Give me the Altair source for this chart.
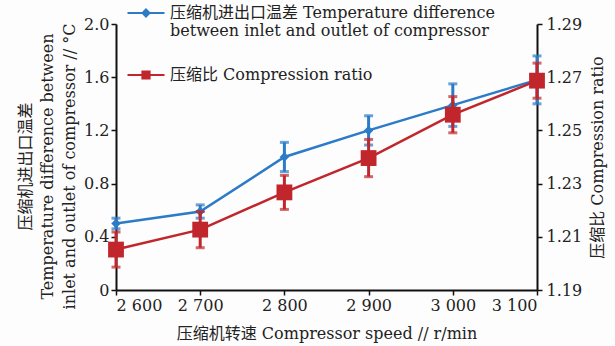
import altair as alt
import pandas as pd

# ---- data ----
speed = [2600, 2700, 2800, 2900, 3000, 3100]
temp_diff = [0.50, 0.59, 1.00, 1.20, 1.39, 1.58]
temp_err = [0.04, 0.05, 0.11, 0.11, 0.16, 0.18]
comp_ratio = [1.2052, 1.2127, 1.2267, 1.2396, 1.2559, 1.2687]
comp_err = [0.0066, 0.0068, 0.0064, 0.0070, 0.0068, 0.0066]

x_ticks = [2600, 2700, 2800, 2900, 3000, 3100]
left_ticks = [0, 0.4, 0.8, 1.2, 1.6, 2.0]
right_ticks = [1.19, 1.21, 1.23, 1.25, 1.27, 1.29]

blue_name = "压缩机进出口温差 Temperature difference|between inlet and outlet of compressor"
red_name = "压缩比 Compression ratio"
x_title = "压缩机转速 Compressor speed // r/min"
left_title = ["压缩机进出口温差", "Temperature difference between", "inlet and outlet of compressor // °C"]
right_title = "压缩比 Compression ratio"

BLUE = "#2b7bc6"
RED = "#c0262c"
FONT = "DejaVu Serif, Noto Sans CJK SC"
FS = 16

dfb = pd.DataFrame({
    "speed": speed,
    "val": temp_diff,
    "lo": [v - e for v, e in zip(temp_diff, temp_err)],
    "hi": [v + e for v, e in zip(temp_diff, temp_err)],
    "series": [blue_name] * len(speed),
})
dfr = pd.DataFrame({
    "speed": speed,
    "val": comp_ratio,
    "lo": [v - e for v, e in zip(comp_ratio, comp_err)],
    "hi": [v + e for v, e in zip(comp_ratio, comp_err)],
    "series": [red_name] * len(speed),
})

x_enc = alt.X(
    "speed:Q",
    scale=alt.Scale(domain=[2600, 3100], nice=False, zero=False),
    axis=alt.Axis(
        values=x_ticks,
        labelExpr="replace(format(datum.value, ','), ',', ' ')",
        title=x_title,
        titlePadding=12,
    ),
)

yb_scale = alt.Scale(domain=[0, 2], nice=False)
yb_axis = alt.Axis(
    values=left_ticks,
    orient="left",
    labelExpr="datum.value == 0 ? '0' : format(datum.value, '.1f')",
    title=left_title,
    titlePadding=6,
    titleLineHeight=22,
    titleY=142,
)
yr_scale = alt.Scale(domain=[1.19, 1.29], nice=False, zero=False)
yr_axis = alt.Axis(
    values=right_ticks,
    orient="right",
    format=".2f",
    title=right_title,
    titleAngle=270,
    titleBaseline="top",
    titlePadding=8,
    labelPadding=4,
)

path_b = "M-3.7,0L3.7,0M0,-0.7L0.7,0L0,0.7L-0.7,0Z"
path_r = "M-3.7,0L3.7,0M-0.72,-0.72L0.72,-0.72L0.72,0.72L-0.72,0.72Z"

def legend(path, color, ly):
    return alt.Legend(
        title=None,
        orient="none",
        legendX=22,
        legendY=ly,
        symbolType=path,
        symbolSize=100,
        symbolFillColor=color,
        symbolStrokeColor=color,
        symbolStrokeWidth=2,
        labelExpr="split(datum.label, '|')",
        labelFont=FONT,
        labelFontSize=FS,
        labelColor="#222222",
        labelOffset=16,
        labelLimit=600,
        padding=0,
    )

# ---- blue series (left axis) ----
yb = alt.Y("val:Q", scale=yb_scale, axis=yb_axis)
blue_line = alt.Chart(dfb).mark_line(color=BLUE, strokeWidth=2.5).encode(x=x_enc, y=yb)
blue_bar = alt.Chart(dfb).mark_rule(color=BLUE, strokeWidth=3).encode(
    x=x_enc, y=alt.Y("lo:Q", scale=yb_scale, axis=yb_axis), y2="hi:Q")
blue_cap_lo = alt.Chart(dfb).mark_tick(color=BLUE, thickness=3, size=9, orient="horizontal").encode(
    x=x_enc, y=alt.Y("lo:Q", scale=yb_scale, axis=yb_axis))
blue_cap_hi = alt.Chart(dfb).mark_tick(color=BLUE, thickness=3, size=9, orient="horizontal").encode(
    x=x_enc, y=alt.Y("hi:Q", scale=yb_scale, axis=yb_axis))
blue_pts = alt.Chart(dfb).mark_point(shape="diamond", filled=True, size=90, opacity=1).encode(
    x=x_enc, y=yb,
    color=alt.Color("series:N", scale=alt.Scale(range=[BLUE]), legend=legend(path_b, BLUE, -19)),
)
blue = alt.layer(blue_line, blue_bar, blue_cap_lo, blue_cap_hi, blue_pts)

# ---- red series (right axis) ----
yr = alt.Y("val:Q", scale=yr_scale, axis=yr_axis)
red_line = alt.Chart(dfr).mark_line(color=RED, strokeWidth=2.5).encode(x=x_enc, y=yr)
red_bar = alt.Chart(dfr).mark_rule(color=RED, strokeWidth=3).encode(
    x=x_enc, y=alt.Y("lo:Q", scale=yr_scale, axis=yr_axis), y2="hi:Q")
red_cap_lo = alt.Chart(dfr).mark_tick(color=RED, thickness=3, size=9, orient="horizontal").encode(
    x=x_enc, y=alt.Y("lo:Q", scale=yr_scale, axis=yr_axis))
red_cap_hi = alt.Chart(dfr).mark_tick(color=RED, thickness=3, size=9, orient="horizontal").encode(
    x=x_enc, y=alt.Y("hi:Q", scale=yr_scale, axis=yr_axis))
red_pts = alt.Chart(dfr).mark_point(shape="square", filled=True, size=250, opacity=1).encode(
    x=x_enc, y=yr,
    color=alt.Color("series:N", scale=alt.Scale(range=[RED]), legend=legend(path_r, RED, 43)),
)
red = alt.layer(red_line, red_bar, red_cap_lo, red_cap_hi, red_pts)

chart = (
    alt.layer(blue, red)
    .resolve_scale(y="independent", color="independent")
    .properties(
        width=421,
        height=266,
        autosize=alt.AutoSizeParams(type="none"),
        padding={"left": 116, "top": 24, "right": 78, "bottom": 56},
        background="#fdfdfd",
    )
    .configure_view(strokeWidth=0)
    .configure_axis(
        grid=False,
        domainColor="#111111",
        domainWidth=2,
        tickColor="#111111",
        tickWidth=1.5,
        tickSize=5,
        labelPadding=2,
        labelFont=FONT,
        labelFontSize=FS,
        labelColor="#222222",
        titleFont=FONT,
        titleFontSize=FS,
        titleFontWeight="normal",
        titleColor="#222222",
        labelOverlap=False,
    )
)

chart.save("out.html", embed_options={"renderer": "svg", "actions": False})
